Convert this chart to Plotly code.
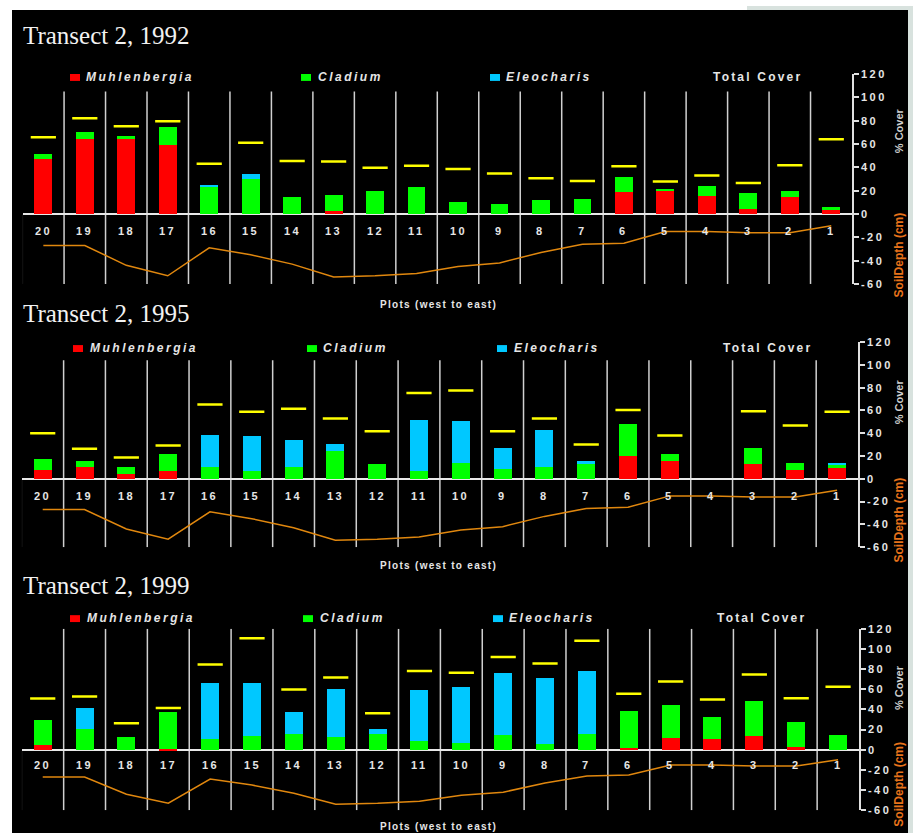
import plotly.graph_objects as go

W, H = 913, 839

# ---------------- data ----------------
plots = [str(i) for i in range(20, 0, -1)]
soil_depth = [-27, -27, -44, -53, -29, -35, -43, -54, -53, -51,
              -45, -42, -33, -26, -25, -15, -15, -16, -16, -10]

muhl_1992 = [47, 64, 64, 59, 0, 0, 0, 2.5, 0, 0, 0, 0, 0, 0, 18.6, 19.7, 15.2, 4.2, 14.4, 3.4]
clad_1992 = [4.2, 6, 2.6, 16, 23.5, 29.6, 14.4, 13.5, 19.4, 22.8, 10.7, 8.5, 11.8, 12.7, 12.7, 1.4, 8.5, 13.5, 5, 2.5]
eleo_1992 = [0, 0, 0, 0, 1, 5, 0, 0, 0, 0, 0, 0, 0, 0, 0, 0, 0, 0, 0, 0]
total_1992 = [65.7, 82, 75.2, 79.5, 43, 61, 45.4, 45, 39.7, 41.4, 38.6, 34.7, 30.7, 28.2, 40.9, 27.9, 33, 26.6, 41.7, 64]

muhl_1995 = [7.4, 10.2, 3.9, 6.5, 0, 0, 0, 0, 0, 0, 0, 0, 0, 0, 20.4, 15.2, 0, 12.6, 7.4, 9.1]
clad_1995 = [10.4, 5.8, 6.9, 15.6, 10.2, 6.5, 10.8, 24.7, 12.6, 6.5, 14, 8.8, 10.8, 13.4, 27.7, 6.9, 0, 14.7, 6.9, 2.6]
eleo_1995 = [0, 0, 0, 0, 28.4, 31.2, 23.5, 6.1, 0, 45.1, 36.7, 18.5, 32.1, 2.6, 0, 0, 0, 0, 0, 2.6]
total_1995 = [40, 26.4, 18.6, 29.3, 65.2, 58.8, 61.4, 53, 41.8, 75.3, 77.6, 41.8, 53, 30.2, 60.3, 38, None, 59.4, 46.7, 58.8]

muhl_1999 = [4.9, 0, 0, 1, 0, 0, 0, 0, 0, 0, 0, 0, 0, 0, 2, 11.7, 10.7, 13.7, 2.9, 0]
clad_1999 = [24.4, 20.5, 12.7, 36.1, 10.4, 13.7, 15.6, 12.4, 15.6, 8.5, 6.8, 14.3, 5.9, 15.6, 36.1, 32.2, 21.5, 34.2, 24.4, 14.6]
eleo_1999 = [0, 20.5, 0, 0, 56, 52.7, 21.5, 48.1, 4.9, 51.1, 55.7, 61.9, 65.4, 62.5, 0, 0, 0, 0, 0, 0]
total_1999 = [50.8, 52.7, 26.4, 41.3, 84.6, 110.4, 59.6, 71.6, 36.1, 78.1, 76.2, 91.8, 85.6, 108.1, 55.4, 67.7, 49.8, 74.5, 51.1, 62.5]

years = ["1992", "1995", "1999"]
species = ["Muhlenbergia", "Cladium", "Eleocharis"]
cover = {
    "1992": [muhl_1992, clad_1992, eleo_1992, total_1992],
    "1995": [muhl_1995, clad_1995, eleo_1995, total_1995],
    "1999": [muhl_1999, clad_1999, eleo_1999, total_1999],
}
y_ticks = [-60, -40, -20, 0, 20, 40, 60, 80, 100, 120]

# ---------------- layout (pixel geometry) ----------------
panels = [
    dict(ytop=69, ybot=282, x0=22.6, x1=852, title_y=30, leg_y=72,
         sq=[70, 301, 490], txt=[84, 316, 504], tot=711, sep_top=105,
         plots_y=303, cover_y=127, soil_y=253),
    dict(ytop=341, ybot=549, x0=21.8, x1=858, title_y=312, leg_y=347,
         sq=[73, 307, 497], txt=[88, 321, 512], tot=721, sep_top=104,
         plots_y=568, cover_y=402, soil_y=522),
    dict(ytop=631.7, ybot=816, x0=21.8, x1=859, title_y=588, leg_y=621,
         sq=[70, 303, 493], txt=[85, 318, 507], tot=715, sep_top=120,
         plots_y=832, cover_y=692, soil_y=790),
]
colors = ["#ff0000", "#00ff00", "#00c8ff"]
TXT = "#e6e6e6"
SANS = "Liberation Sans, Arial, sans-serif"
SOIL_LINE = "#e0870e"
SOIL_TXT = "#e8731a"


def px(x):
    return x / W


def py(y):
    return 1 - y / H


def sp(text, s):
    return f'<span style="letter-spacing:{s}px">{text}</span>'


fig = go.Figure()
shapes = [
    dict(type="rect", xref="paper", yref="paper", x0=px(12), x1=px(908), y0=0, y1=py(4),
         fillcolor="black", line_width=0, layer="below"),
    dict(type="rect", xref="paper", yref="paper", x0=px(747), x1=1, y0=py(4), y1=1,
         fillcolor="#d8e2de", line_width=0, layer="below"),
    dict(type="rect", xref="paper", yref="paper", x0=px(908), x1=1, y0=0, y1=1,
         fillcolor="#d8e2de", line_width=0, layer="below"),
]
annotations = []

for i, (yr, p) in enumerate(zip(years, panels)):
    n = "" if i == 0 else str(i + 1)
    xa, ya = "x" + n, "y" + n
    data = cover[yr]
    for k in range(3):
        fig.add_trace(go.Bar(x=plots, y=data[k], name=species[k], xaxis=xa, yaxis=ya,
                             marker=dict(color=colors[k], line_width=0), width=0.43))
    fig.add_trace(go.Scatter(x=plots, y=data[3], mode="markers", name="Total Cover",
                             xaxis=xa, yaxis=ya,
                             marker=dict(symbol="line-ew", size=18,
                                         line=dict(color="#ffff00", width=2.5))))
    fig.add_trace(go.Scatter(x=plots, y=soil_depth, mode="lines", name="Soil Depth",
                             xaxis=xa, yaxis=ya, line=dict(color=SOIL_LINE, width=1.5)))

    fig.update_layout(**{
        "xaxis" + n: dict(domain=[px(p["x0"]), px(p["x1"])], anchor=ya, type="category",
                          categoryorder="array", categoryarray=plots, range=[-0.5, 19.5],
                          showticklabels=False, showgrid=False, zeroline=False, showline=False,
                          ticks=""),
        "yaxis" + n: dict(domain=[py(p["ybot"]), py(p["ytop"])], anchor=xa, side="right",
                          range=[-60, 120], tickvals=y_ticks,
                          ticktext=[sp(str(v), 2.5) for v in y_ticks],
                          tickfont=dict(family=SANS, size=11, color=TXT, weight="bold"),
                          showgrid=False, zeroline=True, zerolinecolor="#e8e8e8",
                          zerolinewidth=1.5, showline=True, linecolor="#e0e0e0", linewidth=1.5,
                          ticks="outside", ticklen=5, tickcolor="#e0e0e0", tickwidth=1.5),
    })

    # separators between plots
    for k in range(19):
        shapes.append(dict(type="line", xref=xa, yref=ya, x0=k + 0.5, x1=k + 0.5,
                           y0=-60, y1=p["sep_top"], line=dict(color="#d0d0d0", width=1.5),
                           layer="below"))
    shapes.append(dict(type="line", xref=xa, yref=ya, x0=-0.5, x1=-0.5, y0=-60, y1=0,
                       line=dict(color="#2a2a2a", width=1), layer="below"))

    # plot labels under zero line (category index positions)
    for idx, c in enumerate(plots):
        annotations.append(dict(x=idx, y=-15, xref=xa, yref=ya, text=sp(c, 2.5), showarrow=False,
                                xanchor="center", yanchor="middle",
                                font=dict(family=SANS, size=11, color=TXT, weight="bold")))

    # title
    annotations.append(dict(x=px(21), y=py(p["title_y"]), xref="paper", yref="paper",
                            xanchor="left", yanchor="middle", showarrow=False,
                            text=f"Transect 2, {yr}",
                            font=dict(family="Liberation Serif, Times New Roman, serif",
                                      size=25, color="#f2f2f2")))
    # legend row
    for k in range(3):
        shapes.append(dict(type="rect", xref="paper", yref="paper",
                           x0=px(p["sq"][k]), x1=px(p["sq"][k] + 10),
                           y0=py(p["leg_y"] + 4), y1=py(p["leg_y"] - 3),
                           fillcolor=colors[k], line_width=0))
        annotations.append(dict(x=px(p["txt"][k]), y=py(p["leg_y"]), xref="paper", yref="paper",
                                xanchor="left", yanchor="middle", showarrow=False,
                                text=sp(species[k], 2.5),
                                font=dict(family=SANS, size=12, color=TXT, weight="bold",
                                          style="italic")))
    annotations.append(dict(x=px(p["tot"]), y=py(p["leg_y"]), xref="paper", yref="paper",
                            xanchor="left", yanchor="middle", showarrow=False,
                            text=sp("Total Cover", 2.2),
                            font=dict(family=SANS, size=12, color=TXT, weight="bold")))
    # x title
    annotations.append(dict(x=px(438), y=py(p["plots_y"]), xref="paper", yref="paper",
                            xanchor="center", yanchor="middle",
                            showarrow=False, text=sp("Plots (west to east)", 1.3),
                            font=dict(family=SANS, size=10, color=TXT, weight="bold")))
    # y titles
    annotations.append(dict(x=px(899), y=py(p["cover_y"]), xref="paper", yref="paper",
                            xanchor="center", yanchor="middle",
                            showarrow=False, textangle=-90, text="% Cover",
                            font=dict(family=SANS, size=11, color="#d0d0d0", weight="bold")))
    annotations.append(dict(x=px(899), y=py(p["soil_y"]), xref="paper", yref="paper",
                            xanchor="center", yanchor="middle",
                            showarrow=False, textangle=-90, text="SoilDepth (cm)",
                            font=dict(family=SANS, size=12, color=SOIL_TXT, weight="bold")))

fig.update_layout(width=W, height=H, margin=dict(l=0, r=0, t=0, b=0),
                  paper_bgcolor="white", plot_bgcolor="rgba(0,0,0,0)",
                  barmode="stack", showlegend=False, bargap=0.57,
                  shapes=shapes, annotations=annotations)

fig.write_html("out.html")
